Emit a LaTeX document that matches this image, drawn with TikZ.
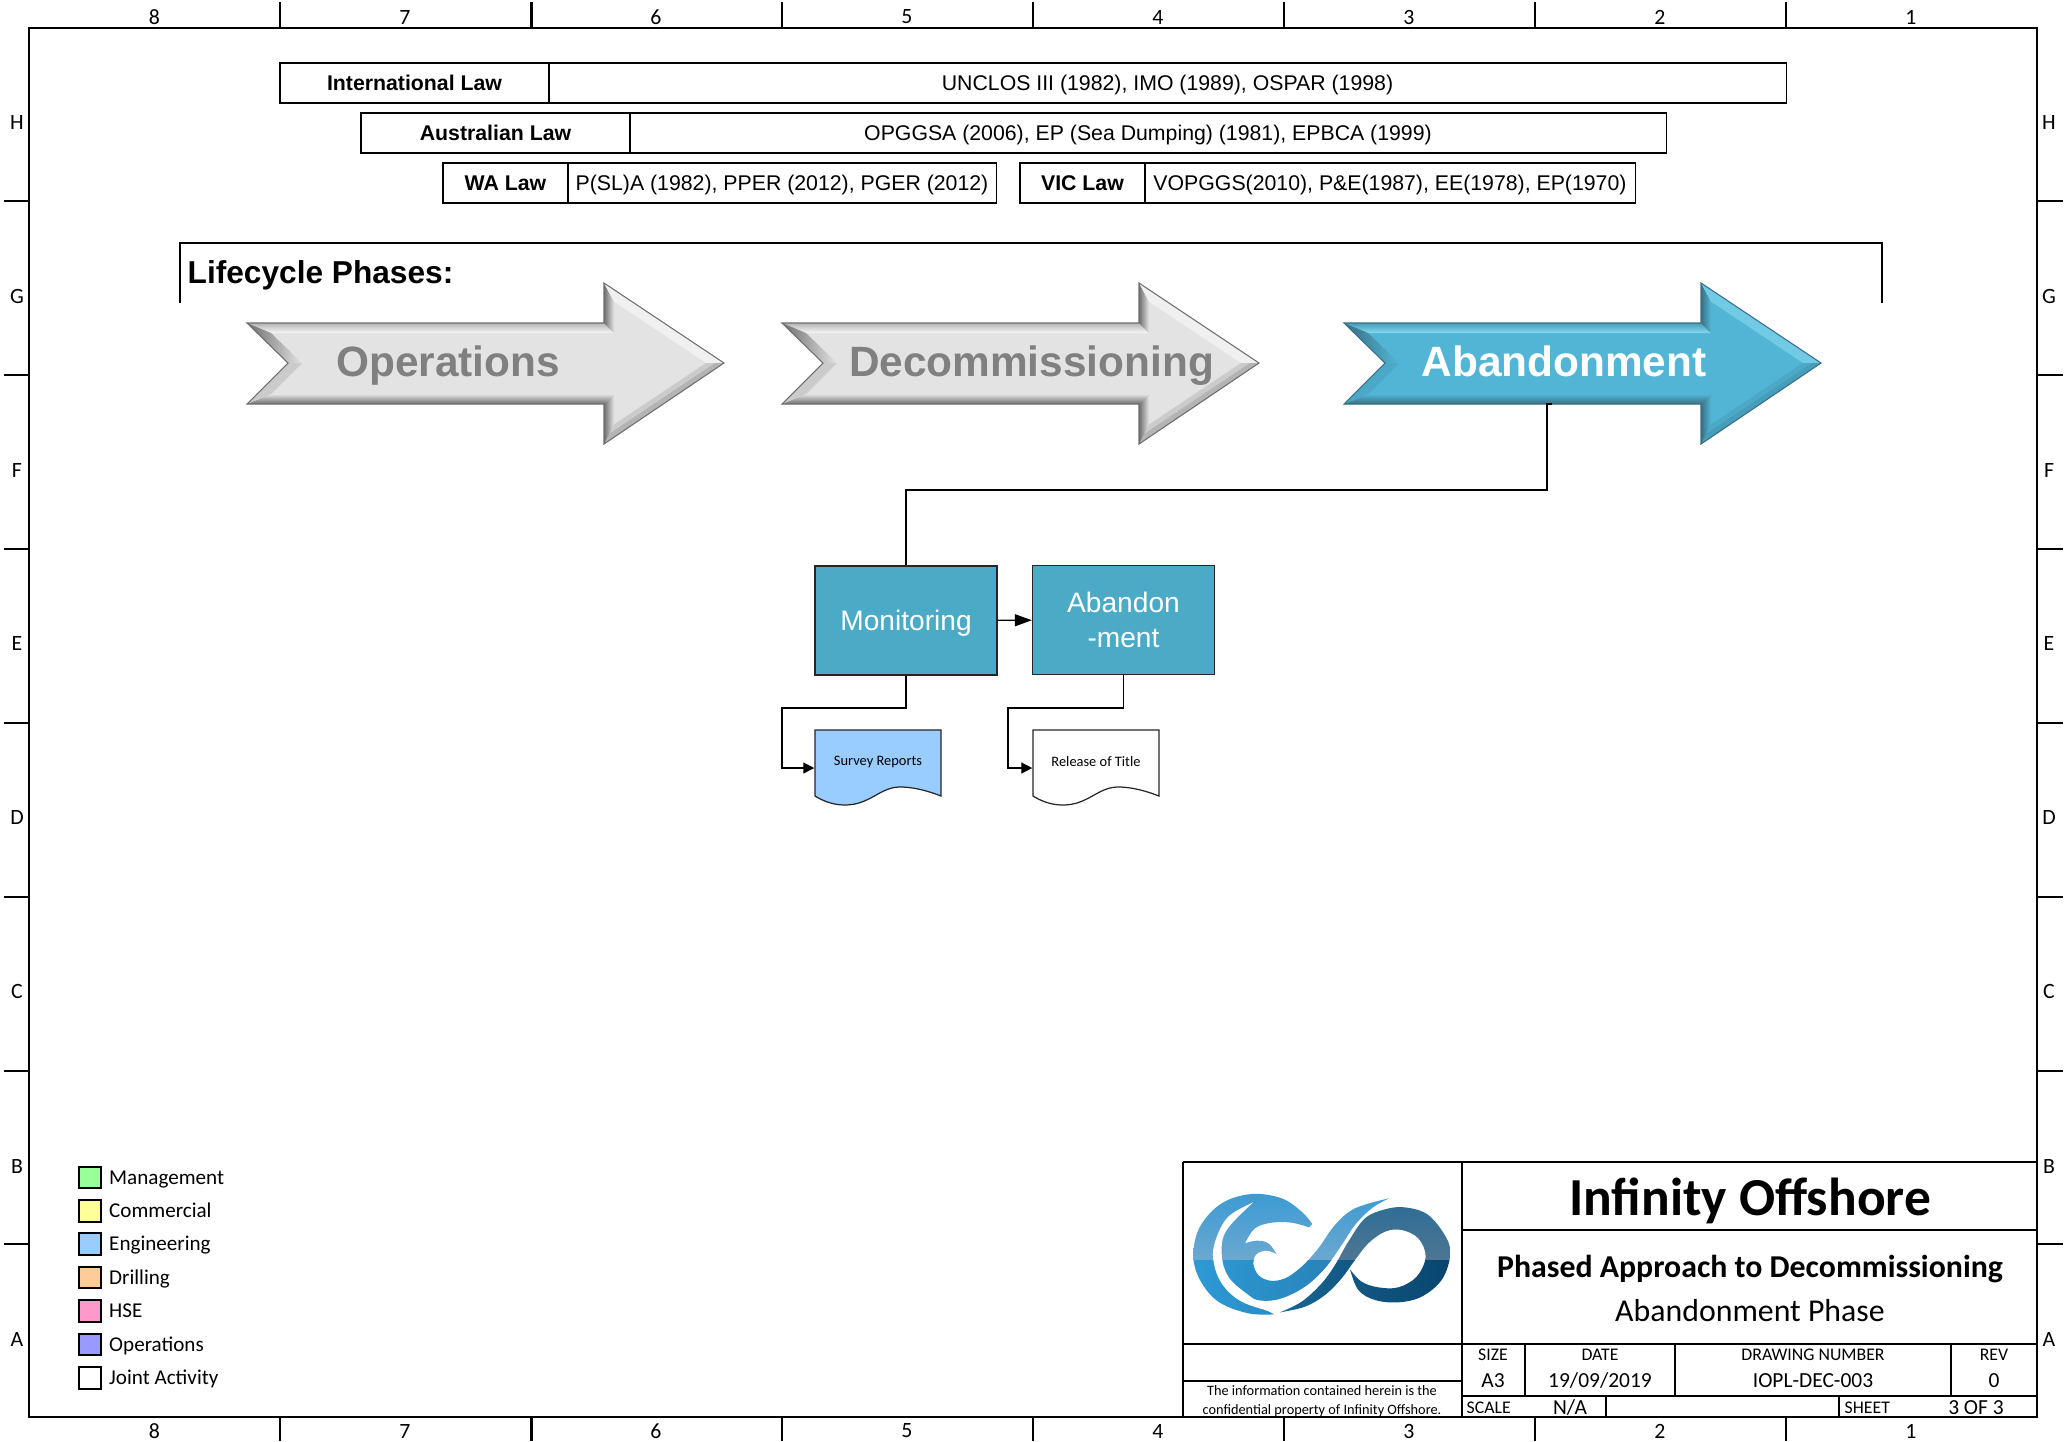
\documentclass[tikz,border=0pt]{standalone}
\usepackage{fontspec}
\setmainfont{Liberation Sans}
\newfontfamily\calibri{Carlito}
\usetikzlibrary{arrows.meta}
\definecolor{grayfill}{HTML}{E3E3E3}
\definecolor{graylit}{HTML}{F8F8F8}
\definecolor{graymid}{HTML}{B4B4B4}
\definecolor{graydark}{HTML}{6E6E6E}
\definecolor{bluefill}{HTML}{52B5D6}
\definecolor{bluelit}{HTML}{86DAF0}
\definecolor{bluemid}{HTML}{459DB9}
\definecolor{bluedark}{HTML}{3A6F83}
\definecolor{taskteal}{HTML}{4BABC6}
\definecolor{docblue}{HTML}{99CCFF}
\definecolor{wavetop}{HTML}{3298D4}
\definecolor{waveglow}{HTML}{6CA8D0}
\definecolor{waveleft}{HTML}{2D9BD8}
\definecolor{waveright}{HTML}{2678AA}
\definecolor{ringtop}{HTML}{2C6C95}
\definecolor{ringglow}{HTML}{4E7694}
\definecolor{ringleft}{HTML}{1A6896}
\definecolor{ringright}{HTML}{08446C}
\tikzset{
    frameline/.style={line width=0.6pt, black},
    lawhead/.style={draw, line width=0.35pt, inner sep=0pt, minimum height=0.4cm, text height=0.155cm, text depth=0.01cm, font=\fontsize{6.05}{7}\selectfont\bfseries},
    lawtext/.style={draw, line width=0.35pt, inner sep=0pt, minimum height=0.4cm, text height=0.155cm, text depth=0.01cm, font=\fontsize{6.05}{7}\selectfont},
    taskbox/.style={draw=black!85, line width=0.35pt, fill=taskteal, text=white, inner sep=0pt, minimum width=1.82cm, minimum height=1.09cm, align=center, font=\fontsize{8}{10}\selectfont},
    flow/.style={line width=0.35pt, black, -{Triangle[length=0.11cm, width=0.11cm]}},
    doctext/.style={inner sep=0pt, minimum width=1.26cm, minimum height=0.76cm, font=\calibri\fontsize{4.1}{5}\selectfont},
    gridtext/.style={inner sep=0pt, font=\calibri\fontsize{6.2}{7}\selectfont},
    legendbox/.style={draw, line width=0.45pt, inner sep=0pt, minimum width=0.22cm, minimum height=0.215cm},
    legendtext/.style={anchor=west, inner sep=0pt, text height=0.14cm, text depth=0.04cm, font=\calibri\fontsize{6}{7}\selectfont},
    smalltext/.style={inner sep=0pt, text height=0.115cm, text depth=0.01cm, font=\calibri\fontsize{5.05}{6}\selectfont},
    valuetext/.style={inner sep=0pt, text height=0.14cm, text depth=0.01cm, font=\calibri\fontsize{6.1}{7}\selectfont},
    noticetext/.style={inner sep=0pt, font=\calibri\fontsize{4.07}{5}\selectfont},
}
\newcommand{\phasearrow}[5]{
    \begin{scope}[shift={(#2,0)}]
        \fill[#3fill] (0,323) -- (357,323) -- (357,283) -- (477,363) -- (357,444) -- (357,404) -- (0,404) -- (41,363) -- cycle;
        \shade[top color=#3mid, bottom color=#3lit] (0,323) -- (357,323) -- (367,333) -- (24,333) -- cycle;
        \shade[left color=#3dark, right color=#3fill] (357,323) -- (357,283) -- (367,301.6) -- (367,333) -- cycle;
        \fill[#3lit!60!#3fill] (357,283) -- (477,363) -- (459,363) -- (367,301.6) -- cycle;
        \fill[#3fill!50!#3mid] (477,363) -- (357,444) -- (367,424.5) -- (459,363) -- cycle;
        \fill[#3mid] (477,363) -- (357,444) -- (362,434) -- (468,363) -- cycle;
        \shade[left color=#3dark, right color=#3fill] (357,444) -- (357,404) -- (367,394) -- (367,424.5) -- cycle;
        \shade[top color=#3fill, bottom color=#3dark] (357,404) -- (0,404) -- (24,394) -- (367,394) -- cycle;
        \fill[#3fill!50!#3mid] (0,404) -- (41,363) -- (55,363) -- (24,394) -- cycle;
        \shade[left color=#3dark, right color=#3fill] (0,323) -- (41,363) -- (55,363) -- (24,333) -- cycle;
        \draw[#3dark, line width=0.3pt, line join=miter] (0,323) -- (357,323) -- (357,283) -- (477,363) -- (357,444) -- (357,404) -- (0,404) -- (41,363) -- cycle;
    \end{scope}
    \node[#4] (#1) at (#5,376.5) {\fontsize{12.05}{14}\selectfont\bfseries\phasename};
}
\newcommand{\docbox}[4]{
    \begin{scope}[shift={(#2)}]
        \draw[draw=black!85, fill=#3, line width=0.35pt] (0,0) -- (126,0) -- (126,66) .. controls (108,59) and (95,57) .. (85,57) .. controls (65,57) and (55,75) .. (30,75) .. controls (18,75) and (8,71) .. (0,66) -- cycle;
        \node[doctext] (#1) at (63,38) {\raisebox{0.14cm}{#4}};
    \end{scope}
}
\begin{document}
\begin{tikzpicture}[x=0.01cm, y=-0.01cm]
    \useasboundingbox (0,0) rectangle (2065,1441);

    \draw[frameline] (29,28) rectangle (2037,1417);
    \foreach \x in {280,531.5,782,1033,1284,1535,1786} {
        \draw[frameline] (\x,2) -- (\x,28);
        \draw[frameline] (\x,1417) -- (\x,1441);
    }
    \foreach \y in {201,375,549,723,897,1071,1244} {
        \draw[frameline] (4,\y) -- (29,\y);
        \draw[frameline] (2037,\y) -- (2063,\y);
    }
    \foreach \n/\x in {8/154.5,7/405,6/656,5/907,4/1158,3/1409,2/1660,1/1911} {
        \node[gridtext] (top\n) at (\x,17) {\n};
        \node[gridtext] (bottom\n) at (\x,1431) {\n};
    }
    \foreach \n/\y in {H/122,G/296,F/470,E/643,D/817,C/991,B/1166,A/1339} {
        \node[gridtext] (left\n) at (17,\y) {\n};
        \node[gridtext] (right\n) at (2049,\y) {\n};
    }

    \node[lawhead, minimum width=2.69cm] (intlaw) at (414.5,83) {International Law};
    \node[lawtext, minimum width=12.37cm] (intlist) at (1167.5,83) {UNCLOS III (1982), IMO (1989), OSPAR (1998)};
    \node[lawhead, minimum width=2.69cm] (auslaw) at (495.5,133) {Australian Law};
    \node[lawtext, minimum width=10.36cm] (auslist) at (1148,133) {OPGGSA (2006), EP (Sea Dumping) (1981), EPBCA (1999)};
    \node[lawhead, minimum width=1.25cm] (walaw) at (505.5,183) {WA Law};
    \node[lawtext, minimum width=4.28cm] (walist) at (782,183) {P(SL)A (1982), PPER (2012), PGER (2012)};
    \node[lawhead, minimum width=1.25cm] (viclaw) at (1082.5,183) {VIC Law};
    \node[lawtext, minimum width=4.90cm] (viclist) at (1390,183) {VOPGGS(2010), P\&E(1987), EE(1978), EP(1970)};

    \draw[line width=0.35pt] (180,303) -- (180,243) -- (1882,243) -- (1882,303);
    \node[anchor=west, inner sep=0pt, font=\fontsize{9}{11}\selectfont\bfseries] (phases) at (187,275) {Lifecycle Phases:};

    \def\phasename{Operations}
    \phasearrow{operations}{247}{gray}{anchor=base, text=gray}{448}
    \def\phasename{Decommissioning}
    \phasearrow{decommissioning}{782}{gray}{anchor=base, text=gray}{1031.5}
    \def\phasename{Abandonment}
    \phasearrow{abandonment}{1344}{blue}{anchor=base, text=white}{1564}

    \node[taskbox, text depth=0pt] (monitoring) at (906,620.5) {Monitoring};
    \node[taskbox] (abandon) at (1123.5,620) {Abandon\\-ment};
    \docbox{survey}{815,730}{docblue}{Survey Reports}
    \docbox{release}{1033,730}{white}{Release of Title}

    \coordinate (abandonfoot) at (1552,404);
    \coordinate (abandontick) at (1547,404);
    \coordinate (abandonjog) at (906,490);
    \coordinate (surveyjog) at (782,708);
    \coordinate (releasejog) at (1008,708);
    \draw[line width=0.35pt, black] (abandonfoot) -- (abandontick) |- (abandonjog) -- (monitoring.north);
    \draw[flow, -{Triangle[length=0.17cm, width=0.12cm]}] (monitoring) -- (abandon);
    \draw[flow] (monitoring.south) |- (surveyjog) |- (survey.west);
    \draw[flow] (abandon.south) |- (releasejog) |- (release.west);

    \foreach \n/\y/\c/\t in {0/1177.5/99FF99/Management,1/1211/FFFF99/Commercial,2/1244/99CCFF/Engineering,3/1277.5/FFCC99/Drilling,4/1311/FF99CC/HSE,5/1344.5/9999FF/Operations,6/1378/FFFFFF/Joint Activity} {
        \definecolor{keycolor}{HTML}{\c}
        \node[legendbox, fill=keycolor] (key\n) at (90,\y) {};
        \node[legendtext] (keytext\n) at (108.5,\y+1.5) {\t};
    }

    \draw[frameline] (1183,1162) -- (2037,1162);
    \draw[frameline] (1183,1162) -- (1183,1417);
    \draw[frameline] (1462,1162) -- (1462,1417);
    \draw[frameline] (1462,1230) -- (2037,1230);
    \draw[frameline] (1183,1344) -- (2037,1344);
    \draw[frameline] (1183,1381) -- (1462,1381);
    \draw[frameline] (1462,1396) -- (2037,1396);
    \draw[line width=0.4pt] (1525,1344) -- (1525,1396);
    \draw[line width=0.4pt] (1675,1344) -- (1675,1396);
    \draw[line width=0.4pt] (1951,1344) -- (1951,1396);
    \draw[line width=0.4pt] (1606,1396) -- (1606,1417);
    \draw[line width=0.4pt] (1839,1396) -- (1839,1417);

    \begin{scope}[shift={(1185,1180)}, scale=0.3333]
        \begin{scope}
            \clip plot[smooth, tension=0.6] coordinates {(268,403) (190,400) (100,365) (45,300) (25,225) (45,140) (110,70) (200,42) (290,55) (350,95) (382,132)}
                -- (372,142)
                -- plot[smooth, tension=0.6] coordinates {(372,142) (320,128) (260,128) (210,145) (180,190)}
                -- plot[smooth, tension=0.6] coordinates {(180,190) (215,182) (250,190) (275,222)}
                -- plot[smooth, tension=0.6] coordinates {(275,222) (245,212) (215,222) (205,250) (220,285) (255,302) (300,295) (350,260) (400,205) (450,135) (510,85) (612,55)}
                -- plot[smooth, tension=0.6] coordinates {(612,55) (560,85) (510,135) (470,195) (420,265) (360,320) (290,355) (230,362) (170,345)}
                -- (120,330) -- cycle;
            \shade[top color=wavetop, bottom color=waveglow] (0,0) rectangle (640,240);
            \shade[left color=waveleft, right color=waveright] (0,240) rectangle (640,435);
        \end{scope}
        \fill[white] plot[smooth, tension=0.6] coordinates {(205,67) (130,110) (92,180) (85,240) (110,310) (170,365) (270,398)}
            -- plot[smooth, tension=0.6] coordinates {(270,398) (190,345) (130,290) (110,220) (125,150) (205,67)} -- cycle;
        \begin{scope}
            \clip plot[smooth, tension=0.6] coordinates {(285,397) (350,365) (410,310) (450,255) (490,185) (540,115) (600,88) (660,82) (730,105) (785,175) (795,230) (770,300) (710,350) (640,367) (570,360) (520,330) (495,268)}
                -- plot[smooth, tension=0.6] coordinates {(495,268) (530,305) (580,322) (640,322) (695,290) (722,230) (700,175) (650,150) (600,155) (550,190) (510,240) (470,295) (420,345) (360,380) (285,397)} -- cycle;
            \shade[top color=ringtop, bottom color=ringglow] (250,60) rectangle (810,240);
            \shade[left color=ringleft, right color=ringright] (250,240) rectangle (810,435);
        \end{scope}
    \end{scope}

    \node[inner sep=0pt, font=\calibri\fontsize{15.2}{17}\selectfont\bfseries] (company) at (1750,1200.5) {Infinity Offshore};
    \node[inner sep=0pt, font=\calibri\fontsize{9.05}{11}\selectfont\bfseries] (project) at (1750,1269) {Phased Approach to Decommissioning};
    \node[inner sep=0pt, font=\calibri\fontsize{9.05}{11}\selectfont] (phase) at (1750,1311) {Abandonment Phase};
    \node[smalltext] (sizelabel) at (1493,1355) {SIZE};
    \node[smalltext] (datelabel) at (1600,1355) {DATE};
    \node[smalltext] (numberlabel) at (1813,1355) {DRAWING NUMBER};
    \node[smalltext] (revlabel) at (1994,1355) {REV};
    \node[valuetext] (sizevalue) at (1493,1381) {A3};
    \node[valuetext] (datevalue) at (1600,1381) {19/09/2019};
    \node[valuetext] (numbervalue) at (1813,1381) {IOPL-DEC-003};
    \node[valuetext] (revvalue) at (1994,1381) {0};
    \node[smalltext, anchor=west] (scalelabel) at (1466,1408) {SCALE};
    \node[valuetext] (scalevalue) at (1570,1408) {N/A};
    \node[smalltext, anchor=west] (sheetlabel) at (1844,1408) {SHEET};
    \node[valuetext] (sheetvalue) at (1976,1408) {3 OF 3};
    \node[noticetext] (noticeone) at (1322,1391) {The information contained herein is the};
    \node[noticetext] (noticetwo) at (1322,1411) {confidential property of Infinity Offshore.};
\end{tikzpicture}
\end{document}
